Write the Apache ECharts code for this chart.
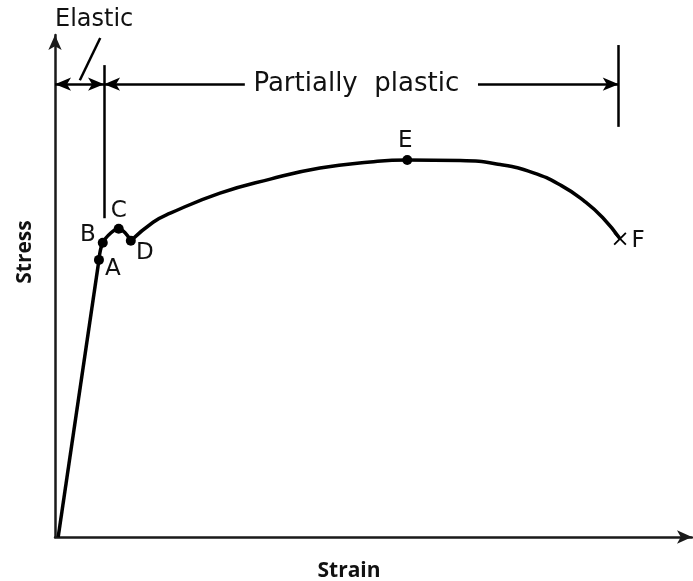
<!DOCTYPE html>
<html>
<head>
<meta charset="utf-8">
<title>Stress-strain curve</title>
<script src="https://cdn.jsdelivr.net/npm/echarts@6/dist/echarts.min.js"></script>
<style>
  html, body { margin: 0; padding: 0; background: #fff; }
  #chart { width: 693px; height: 581px; }
</style>
</head>
<body>
<div id="chart"></div>
<script>
// ---- data (arbitrary units, 0..100 on both axes) ----
// O -> A : linear elastic part
const elasticStrain = [0.5, 6.9];
const elasticStress = [0, 55.2];

// A -> B -> C -> D : yield hump
const yieldStrain = [6.9, 7.5, 8.8, 10.0, 11.0, 11.9];
const yieldStress = [55.2, 58.6, 60.6, 61.4, 60.6, 59.0];

// D -> E -> F : hardening and necking
const hardenStrain = [11.9, 15.4, 18.1, 25.9, 33.8, 41.6, 49.5, 55.3, 63.6, 69.9, 75.0, 79.5, 83.0, 86.0, 88.7];
const hardenStress = [59.0, 62.7, 64.5, 68.5, 71.3, 73.5, 74.7, 75.1, 75.0, 74.2, 72.6, 70.0, 67.0, 63.6, 59.4];

const pointNames = ['A', 'B', 'C', 'D', 'E', 'F'];
const pointStrain = [6.9, 7.5, 10.0, 11.9, 55.3, 88.7];
const pointStress = [55.2, 58.6, 61.4, 59.0, 75.1, 59.4];

// zone annotation (data coords)
const elasticLimit = 7.7;
const fractureStrain = 88.5;
const zoneStress = 90.2;

// label offsets for the point letters
const letterOffset = {
  A: [14, 9], B: [-15, -8], C: [0, -18], D: [14, 12], E: [-2, -19], F: [18, 2]
};

const ink = '#111';
const letterFont = 'DejaVu Sans';
const crossPath = 'path://M1,0L5,4L9,0L10,1L6,5L10,9L9,10L5,6L1,10L0,9L4,5L0,1Z';

const chart = echarts.init(document.getElementById('chart'));

const zip = (xs, ys) => xs.map((x, i) => [x, ys[i]]);

const arrowSeg = (x1, x2, y, s1, s2) => [
  { coord: [x1, y], symbol: s1 },
  { coord: [x2, y], symbol: s2 }
];

const axisCommon = {
  type: 'value',
  min: 0,
  max: 100,
  axisLine: {
    show: true,
    lineStyle: { color: '#1a1a1a', width: 2.5 },
    symbol: ['none', 'arrow'],
    symbolSize: [10, 15]
  },
  axisTick: { show: false },
  axisLabel: { show: false },
  splitLine: { show: false }
};

const curveStyle = { color: '#000', width: 3.5 };

chart.setOption({
  animation: false,
  grid: { left: 55, right: 1, top: 35, bottom: 44 },
  xAxis: axisCommon,
  yAxis: axisCommon,
  graphic: [
    {
      type: 'text',
      left: 55, top: 8,
      style: { text: 'Elastic', fontSize: 24, fontFamily: letterFont, fill: ink }
    },
    {
      type: 'text',
      x: 25, y: 252,
      rotation: Math.PI / 2,
      style: {
        text: 'Stress', fontSize: 21, fontWeight: 'bold', fontFamily: 'Open Sans',
        fill: ink, align: 'center', verticalAlign: 'middle'
      }
    },
    {
      type: 'text',
      x: 349, y: 571,
      style: {
        text: 'Strain', fontSize: 21, fontWeight: 'bold', fontFamily: 'Open Sans',
        fill: ink, align: 'center', verticalAlign: 'middle'
      }
    }
  ],
  series: [
    {
      name: 'elastic',
      type: 'line',
      data: zip(elasticStrain, elasticStress),
      showSymbol: false,
      lineStyle: curveStyle,
      silent: true,
      markLine: {
        silent: true,
        symbolSize: [10, 16],
        label: { show: false },
        lineStyle: { color: '#000', width: 2.5, type: 'solid' },
        data: [
          // elastic zone arrow
          arrowSeg(0, elasticLimit, zoneStress, 'arrow', 'arrow'),
          // partially plastic arrows
          arrowSeg(elasticLimit, 29.8, zoneStress, 'arrow', 'none'),
          arrowSeg(66.4, fractureStrain, zoneStress, 'none', 'arrow'),
          // boundary lines
          [{ coord: [elasticLimit, 94.0], symbol: 'none' }, { coord: [elasticLimit, 63.5], symbol: 'none' }],
          [{ coord: [fractureStrain, 98.0], symbol: 'none' }, { coord: [fractureStrain, 81.7], symbol: 'none' }],
          // leader line from "Elastic"
          [{ coord: [7.1, 99.4], symbol: 'none' }, { coord: [3.9, 91.0], symbol: 'none' }]
        ]
      },
      markPoint: {
        silent: true,
        symbol: 'circle',
        symbolSize: 0,
        label: {
          show: true,
          formatter: '{b}',
          color: ink,
          fontFamily: letterFont,
          fontSize: 26
        },
        data: [{ name: 'Partially  plastic', coord: [47.3, zoneStress] }]
      }
    },
    {
      name: 'yield',
      type: 'line',
      data: zip(yieldStrain, yieldStress),
      smooth: 0.4,
      showSymbol: false,
      lineStyle: curveStyle,
      silent: true
    },
    {
      name: 'harden',
      type: 'line',
      data: zip(hardenStrain, hardenStress),
      smooth: 0.5,
      showSymbol: false,
      lineStyle: curveStyle,
      silent: true
    },
    {
      name: 'points',
      type: 'scatter',
      silent: true,
      itemStyle: { color: '#000', opacity: 1 },
      label: {
        show: true,
        formatter: '{b}',
        position: 'inside',
        align: 'center',
        verticalAlign: 'middle',
        color: ink,
        fontFamily: letterFont,
        fontSize: 23
      },
      data: pointNames.map((n, i) => ({
        name: n,
        value: [pointStrain[i], pointStress[i]],
        symbol: n === 'F' ? crossPath : 'circle',
        symbolSize: n === 'F' ? 13 : 10,
        label: { offset: letterOffset[n] }
      }))
    }
  ]
});
</script>
</body>
</html>
